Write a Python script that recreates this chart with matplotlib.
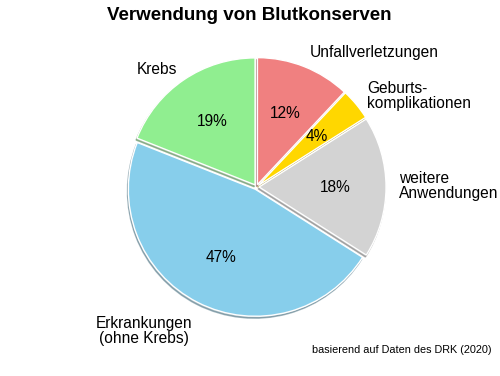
import matplotlib
matplotlib.use("Agg")
import matplotlib.pyplot as plt

plt.rcParams['font.family'] = ['Liberation Sans', 'DejaVu Sans']

categories = ["Unfallverletzungen", "Geburts-\nkomplikationen", "weitere\nAnwendungen",
              "Erkrankungen\n(ohne Krebs)", "Krebs"]
values = [12, 4, 18, 47, 19]
colors = ["#F08080", "#FFD700", "#D3D3D3", "#87CEEB", "#90EE90"]

W, H = 500, 376
fig = plt.figure(figsize=(W/100, H/100), dpi=100)
ax = fig.add_axes([0, 0, 1, 1])
cx, cy, R = 256.5, 187, 127

wedges, texts, autotexts = ax.pie(values, colors=colors, startangle=90, counterclock=False,
                                  explode=[0.02]*len(values),
                                  shadow=dict(ox=-0.005, oy=-0.011, shade=0.45),
                                  autopct='%d%%', pctdistance=0.6,
                                  wedgeprops=dict(edgecolor='white', linewidth=1),
                                  textprops=dict(fontsize=11.2, color='black'))
ax.set_xlim(-cx/R, (W-cx)/R)
ax.set_ylim(-(H-cy)/R, cy/R)
ax.set_aspect('auto')
ax.axis('off')

def px(x, y):
    return x/W, 1 - y/H

label_pos = [(310, 53, 'left'), (367, 96, 'left'), (399, 186, 'left'), (144, 331, 'center'), (137, 70, 'left')]
for name, (x, y, ha) in zip(categories, label_pos):
    fx, fy = px(x, y)
    fig.text(fx, fy, name, ha=ha, va='center', fontsize=11.2, multialignment=ha, linespacing=1.05)

fx, fy = px(249, 15)
fig.text(fx, fy, "Verwendung von Blutkonserven", ha='center', va='center', fontsize=13.5, fontweight='bold')
fx, fy = px(492, 350)
fig.text(fx, fy, "basierend auf Daten des DRK (2020)", ha='right', va='center', fontsize=7.8)

fig.savefig("out.png", dpi=100)
